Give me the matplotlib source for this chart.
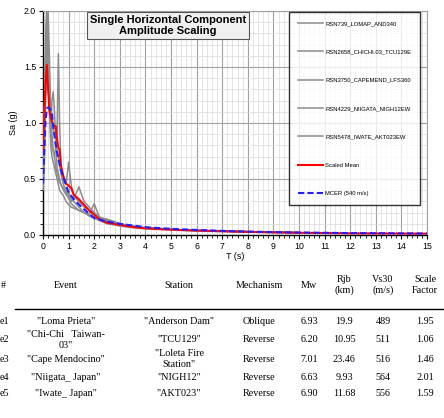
import numpy as np
import matplotlib
matplotlib.use("Agg")
import matplotlib.pyplot as plt
from matplotlib.ticker import MultipleLocator, FormatStrFormatter

plt.rcParams["font.family"] = ["Liberation Sans", "DejaVu Sans"]

# ---- spectra ----
T_rec = [0, 0.05, 0.1, 0.15, 0.2, 0.25, 0.3, 0.35, 0.4, 0.45, 0.5, 0.55, 0.6, 0.65,
         0.7, 0.8, 0.9, 1.0, 1.1, 1.2, 1.4, 1.6, 1.8, 2.0, 2.2, 2.5, 2.8, 3.0, 3.5,
         4, 5, 6, 7, 8, 9, 10]
rsn739 = [0.5, 0.9, 1.8, 2.05, 1.7, 1.3, 1.1, 1.0, 0.95, 0.9, 0.85, 0.75, 0.7, 0.62,
          0.55, 0.45, 0.4, 0.37, 0.33, 0.3, 0.25, 0.2, 0.17, 0.15, 0.13, 0.1, 0.09,
          0.08, 0.065, 0.055, 0.045, 0.035, 0.03, 0.025, 0.022, 0.02]
rsn2658 = [0.4, 0.6, 1.2, 1.5, 2.0, 1.6, 1.1, 0.9, 0.75, 0.7, 0.8, 0.9, 1.62, 1.0,
           0.6, 0.5, 0.45, 0.65, 0.45, 0.35, 0.3, 0.25, 0.22, 0.2, 0.15, 0.12, 0.1,
           0.09, 0.075, 0.06, 0.05, 0.04, 0.035, 0.03, 0.025, 0.022]
rsn3750 = [0.7, 1.1, 1.5, 1.8, 1.4, 1.1, 0.9, 1.2, 1.28, 1.1, 0.8, 0.6, 0.55, 0.5,
           0.45, 0.42, 0.38, 0.35, 0.3, 0.32, 0.43, 0.3, 0.25, 0.2, 0.16, 0.13, 0.1,
           0.09, 0.07, 0.06, 0.05, 0.04, 0.035, 0.03, 0.026, 0.022]
rsn4229 = [0.55, 1.0, 1.6, 1.9, 1.5, 1.2, 0.8, 0.7, 0.65, 0.6, 0.55, 0.5, 0.45, 0.4,
           0.38, 0.35, 0.3, 0.27, 0.25, 0.24, 0.22, 0.2, 0.18, 0.28, 0.16, 0.14, 0.12,
           0.1, 0.08, 0.065, 0.05, 0.04, 0.035, 0.03, 0.025, 0.02]
rsn5478 = [0.45, 0.8, 1.3, 1.6, 1.7, 1.4, 1.0, 0.8, 0.75, 0.7, 0.6, 0.55, 0.5, 0.47,
           0.45, 0.4, 0.36, 0.33, 0.28, 0.26, 0.22, 0.2, 0.18, 0.16, 0.14, 0.14, 0.11,
           0.1, 0.08, 0.065, 0.05, 0.04, 0.035, 0.03, 0.026, 0.02]
rec_names = ["RSN739_LOMAP_AND340", "RSN2658_CHICHI.03_TCU129E",
             "RSN3750_CAPEMEND_LFS360", "RSN4229_NIIGATA_NIGH12EW",
             "RSN5478_IWATE_AKT023EW"]

T_mean = [0, 0.05, 0.1, 0.15, 0.2, 0.25, 0.3, 0.4, 0.5, 0.55, 0.6, 0.65, 0.7, 0.8,
          0.9, 1.0, 1.1, 1.2, 1.4, 1.6, 1.8, 2.0, 2.2, 2.5, 3.0, 3.5, 4, 5, 6, 7, 8,
          10, 12, 15]
scaled_mean = [0.72, 1.05, 1.35, 1.52, 1.3, 1.12, 1.05, 0.98, 0.97, 0.85, 0.78, 0.76,
               0.62, 0.52, 0.46, 0.44, 0.42, 0.36, 0.32, 0.27, 0.22, 0.18, 0.14, 0.11,
               0.09, 0.072, 0.06, 0.048, 0.04, 0.034, 0.028, 0.02, 0.015, 0.012]

T_mcer = [0, 0.05, 0.1, 0.15, 0.2, 0.3, 0.35, 0.4, 0.5, 0.6, 0.7, 0.8, 1.0, 1.2, 1.5,
          2.0, 2.5, 3, 4, 5, 6, 7, 8, 10, 12, 15]
mcer = [0.46, 0.75, 1.02, 1.13, 1.14, 1.12, 1.08, 0.97, 0.80, 0.68, 0.58, 0.51, 0.38,
        0.32, 0.25, 0.15, 0.12, 0.1, 0.07, 0.055, 0.045, 0.037, 0.03, 0.022, 0.017,
        0.013]

# ---- table ----
col_heads = ["#", "Event", "Station", "Mechanism", "Mw", "Rjb\n(km)", "Vs30\n(m/s)",
             "Scale\nFactor"]
rec_ids = ["e1", "e2", "e3", "e4", "e5"]
events = ['"Loma Prieta"', '"Chi-Chi   Taiwan-\n03"', '"Cape Mendocino"',
          '"Niigata_ Japan"', '"Iwate_ Japan"']
stations = ['"Anderson Dam"', '"TCU129"', '"Loleta Fire\nStation"', '"NIGH12"',
            '"AKT023"']
mechs = ["Oblique", "Reverse", "Reverse", "Reverse", "Reverse"]
mw = ["6.93", "6.20", "7.01", "6.63", "6.90"]
rjb = ["19.9", "10.95", "23.46", "9.93", "11.68"]
vs30 = ["489", "511", "516", "564", "556"]
sf = ["1.95", "1.06", "1.46", "2.01", "1.59"]

W, H = 444, 418
fig = plt.figure(figsize=(W / 100, H / 100), dpi=100)
ax = fig.add_axes([43 / W, 1 - 235 / H, 384 / W, 224 / H])

for vals, name in zip([rsn739, rsn2658, rsn3750, rsn4229, rsn5478], rec_names):
    ax.plot(T_rec, vals, color="#8c8c8c", lw=1.1, label=name, zorder=3)
ax.plot(T_mean, scaled_mean, color="red", lw=1.5, label="Scaled Mean", zorder=4)
ax.plot(T_mcer, mcer, color="#1f1fff", lw=1.5, ls=(0, (3, 1.5)),
        label="MCER (540 m/s)", zorder=5)

ax.set_xlim(0, 15)
ax.set_ylim(0, 2.0)
ax.xaxis.set_major_locator(MultipleLocator(1))
ax.xaxis.set_minor_locator(MultipleLocator(0.2))
ax.yaxis.set_major_locator(MultipleLocator(0.5))
ax.yaxis.set_minor_locator(MultipleLocator(0.1))
ax.yaxis.set_major_formatter(FormatStrFormatter("%.1f"))
ax.grid(which="major", color="#a0a0a0", lw=0.8)
ax.grid(which="minor", color="#d9d9d9", lw=0.5)
ax.set_axisbelow(True)
ax.tick_params(which="major", length=3, width=0.8, labelsize=6.3, pad=2)
ax.tick_params(which="minor", length=2, width=0.6)
for s in ["top", "right"]:
    ax.spines[s].set_color("#a0a0a0")
    ax.spines[s].set_linewidth(0.8)
for s in ["left", "bottom"]:
    ax.spines[s].set_linewidth(1.0)

ax.set_xlabel("T (s)", fontsize=6.5, labelpad=1)
ax.set_ylabel("Sa (g)", fontsize=6.5, labelpad=4)

ax.text((168 - 43) / 384, (235 - 25.5) / 224,
        "Single Horizontal Component\nAmplitude Scaling",
        transform=ax.transAxes, ha="center", va="center", fontsize=8,
        fontweight="bold", linespacing=1.12, zorder=6,
        bbox=dict(boxstyle="square,pad=0.25", fc="#f0f0f0", ec="#555555", lw=0.8))

leg = ax.legend(loc="upper left", bbox_to_anchor=((289 - 43) / 384, (235 - 12) / 224),
                fontsize=4.2, frameon=True, fancybox=False, borderpad=1.5,
                labelspacing=4.0, handlelength=4.3, handletextpad=0.4,
                borderaxespad=0)
leg.get_frame().set_edgecolor("black")
leg.get_frame().set_linewidth(1.0)
leg.set_zorder(6)

# ---- table as text ----
col_x = [0, 66, 179, 259, 309, 344, 383, 425]
head_y = 285
row_y = [322, 340, 359, 377, 393]
tfs = 7.3
for cx, head in zip(col_x, col_heads):
    fig.text(cx / W if cx else 1 / W, 1 - head_y / H, head, fontsize=tfs,
             family="Liberation Serif", ha="left" if cx == 0 else "center",
             va="center", linespacing=1.3)
fig.add_artist(plt.Line2D([15 / W, 1], [1 - 309 / H] * 2, color="black", lw=1.0))
cols = [rec_ids, events, stations, mechs, mw, rjb, vs30, sf]
for cx, col in zip(col_x, cols):
    for ry, val in zip(row_y, col):
        fig.text(cx / W, 1 - ry / H, val, fontsize=tfs, family="Liberation Serif",
                 ha="left" if cx == 0 else "center", va="center",
                 linespacing=1.2)

fig.savefig("out.png", dpi=100)
